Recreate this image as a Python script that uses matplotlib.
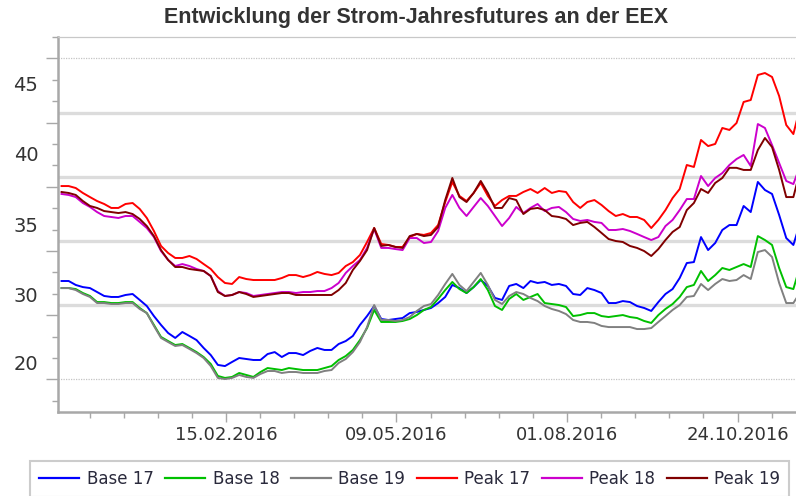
import matplotlib
matplotlib.use("Agg")
import matplotlib.pyplot as plt
import matplotlib.dates as mdates
from matplotlib.ticker import FixedLocator, NullFormatter
from matplotlib.lines import Line2D
import pandas as pd

# ---------------- data ----------------
dates = pd.date_range("2015-11-26", periods=105, freq="84h")

base17 = [31.13, 31.13, 30.85, 30.70, 30.63, 30.35, 30.07, 30.00, 30.00, 30.14,
          30.21, 29.79, 29.36, 28.65, 28.02, 27.45, 27.10, 27.52, 27.24, 26.95,
          26.39, 25.89, 25.19, 25.11, 25.40, 25.68, 25.61, 25.54, 25.54, 25.96,
          26.10, 25.75, 26.03, 26.03, 25.89, 26.18, 26.39, 26.25, 26.25, 26.67,
          26.88, 27.24, 28.02, 28.65, 29.36, 28.44, 28.37, 28.44, 28.51, 28.86,
          28.94, 29.08, 29.22, 29.57, 30.00, 30.85, 30.63, 30.28, 30.70, 31.20,
          30.78, 29.93, 29.79, 30.78, 30.92, 30.63, 31.13, 30.99, 31.06, 30.85,
          30.92, 30.78, 30.21, 30.14, 30.63, 30.49, 30.28, 29.57, 29.57, 29.71,
          29.64, 29.36, 29.22, 29.01, 29.64, 30.21, 30.56, 31.34, 32.40, 32.47,
          34.24, 33.32, 33.82, 34.74, 35.09, 35.09, 36.44, 36.01, 38.14, 37.57,
          37.29, 35.80, 34.17, 33.68, 35.31]
base18 = [30.63, 30.63, 30.56, 30.28, 30.07, 29.64, 29.64, 29.57, 29.57, 29.64,
          29.64, 29.22, 28.86, 28.02, 27.17, 26.88, 26.60, 26.67, 26.39, 26.10,
          25.75, 25.26, 24.41, 24.27, 24.34, 24.62, 24.48, 24.34, 24.69, 24.97,
          24.90, 24.83, 24.97, 24.90, 24.83, 24.83, 24.83, 24.97, 25.11, 25.54,
          25.82, 26.25, 26.95, 27.80, 29.08, 28.23, 28.23, 28.23, 28.30, 28.44,
          28.72, 29.08, 29.29, 29.86, 30.49, 31.06, 30.56, 30.28, 30.70, 31.27,
          30.49, 29.36, 29.08, 29.86, 30.21, 29.79, 30.00, 30.21, 29.57, 29.50,
          29.43, 29.29, 28.65, 28.72, 28.86, 28.86, 28.65, 28.58, 28.65, 28.72,
          28.58, 28.51, 28.30, 28.16, 28.72, 29.15, 29.50, 30.00, 30.70, 30.85,
          31.84, 31.13, 31.55, 32.05, 31.91, 32.12, 32.33, 32.12, 34.31, 34.03,
          33.68, 32.05, 30.70, 30.56, 32.26]
base19 = [30.63, 30.63, 30.49, 30.21, 30.00, 29.57, 29.57, 29.50, 29.50, 29.57,
          29.57, 29.15, 28.86, 27.95, 27.10, 26.81, 26.53, 26.60, 26.32, 26.03,
          25.68, 25.11, 24.27, 24.19, 24.27, 24.48, 24.34, 24.27, 24.55, 24.76,
          24.76, 24.62, 24.69, 24.69, 24.62, 24.62, 24.62, 24.76, 24.83, 25.33,
          25.61, 26.10, 26.81, 27.87, 29.43, 28.37, 28.37, 28.30, 28.37, 28.58,
          29.01, 29.36, 29.50, 30.14, 30.92, 31.63, 30.85, 30.42, 31.06, 31.70,
          30.85, 29.79, 29.50, 30.07, 30.35, 30.21, 29.93, 29.71, 29.36, 29.15,
          29.01, 28.79, 28.37, 28.23, 28.23, 28.16, 27.95, 27.87, 27.87, 27.87,
          27.87, 27.73, 27.73, 27.80, 28.23, 28.65, 29.08, 29.43, 30.00, 30.07,
          30.92, 30.49, 30.92, 31.27, 31.13, 31.20, 31.55, 31.27, 33.18, 33.32,
          32.83, 30.99, 29.57, 29.57, 30.35]
peak17 = [37.85, 37.85, 37.71, 37.36, 37.07, 36.79, 36.58, 36.30, 36.30, 36.58,
          36.65, 36.23, 35.59, 34.67, 33.61, 33.11, 32.76, 32.76, 32.90, 32.69,
          32.33, 31.98, 31.41, 30.99, 30.92, 31.41, 31.27, 31.20, 31.20, 31.20,
          31.20, 31.34, 31.55, 31.55, 31.41, 31.55, 31.77, 31.63, 31.55, 31.70,
          32.19, 32.47, 32.97, 33.89, 34.88, 33.75, 33.68, 33.54, 33.54, 34.24,
          34.46, 34.39, 34.53, 35.09, 36.72, 38.14, 37.15, 36.79, 37.36, 38.07,
          37.15, 36.44, 36.86, 37.15, 37.15, 37.43, 37.64, 37.36, 37.71, 37.36,
          37.50, 37.43, 36.72, 36.30, 36.72, 36.86, 36.51, 36.08, 35.73, 35.87,
          35.66, 35.66, 35.45, 34.88, 35.45, 36.15, 37.00, 37.64, 39.34, 39.20,
          41.11, 40.68, 40.83, 41.96, 41.82, 42.31, 43.80, 43.94, 45.71, 45.85,
          45.57, 44.22, 42.17, 41.53, 43.51]
peak18 = [37.29, 37.22, 37.07, 36.65, 36.37, 36.01, 35.73, 35.66, 35.59, 35.73,
          35.73, 35.31, 34.88, 34.24, 33.25, 32.62, 32.19, 32.33, 32.19, 31.98,
          31.84, 31.48, 30.42, 30.07, 30.14, 30.35, 30.28, 30.07, 30.14, 30.21,
          30.28, 30.35, 30.35, 30.28, 30.35, 30.35, 30.42, 30.42, 30.63, 30.99,
          31.70, 32.19, 32.62, 33.47, 34.81, 33.47, 33.47, 33.39, 33.32, 34.17,
          34.17, 33.82, 33.89, 34.67, 36.30, 37.22, 36.30, 35.73, 36.37, 37.00,
          36.44, 35.73, 35.02, 35.59, 36.37, 35.94, 36.30, 36.58, 36.08, 36.30,
          36.37, 36.01, 35.52, 35.38, 35.45, 35.31, 35.24, 34.74, 34.74, 34.81,
          34.67, 34.46, 34.24, 34.03, 34.24, 35.02, 35.45, 36.15, 36.93, 36.93,
          38.56, 37.85, 38.42, 38.77, 39.34, 39.76, 40.05, 39.27, 42.24, 41.96,
          40.75, 39.48, 38.21, 37.99, 39.34]
peak19 = [37.43, 37.36, 37.22, 36.79, 36.44, 36.30, 36.08, 36.01, 35.94, 36.01,
          35.87, 35.52, 35.02, 34.31, 33.32, 32.62, 32.12, 32.12, 31.98, 31.91,
          31.84, 31.48, 30.35, 30.07, 30.14, 30.35, 30.21, 30.00, 30.07, 30.14,
          30.21, 30.28, 30.28, 30.14, 30.14, 30.14, 30.14, 30.14, 30.14, 30.49,
          30.99, 31.91, 32.55, 33.32, 34.88, 33.61, 33.68, 33.54, 33.47, 34.31,
          34.46, 34.31, 34.39, 34.95, 36.86, 38.42, 37.07, 36.72, 37.36, 38.21,
          37.36, 36.30, 36.30, 37.00, 36.86, 35.87, 36.23, 36.30, 36.15, 35.73,
          35.66, 35.52, 35.09, 35.24, 35.31, 34.95, 34.53, 34.10, 33.96, 33.89,
          33.61, 33.47, 33.25, 32.90, 33.39, 34.03, 34.60, 34.95, 36.15, 36.65,
          37.64, 37.36, 38.07, 38.42, 39.14, 39.14, 38.99, 38.99, 40.40, 41.25,
          40.61, 38.99, 37.07, 37.07, 38.99]

series_names = ["Base 17", "Base 18", "Base 19", "Peak 17", "Peak 18", "Peak 19"]
series_values = [base17, base18, base19, peak17, peak18, peak19]
series_colors = ["#0000ff", "#00c000", "#808080", "#ff0000", "#cc00cc", "#800000"]

xtick_dates = ["2016-02-15", "2016-05-09", "2016-08-01", "2016-10-24"]
xtick_labels = ["15.02.2016", "09.05.2016", "01.08.2016", "24.10.2016"]
ytick_values = [45, 40, 35, 30, 25.2]
ytick_labels = ["45", "40", "35", "30", "20"]
title = "Entwicklung der Strom-Jahresfutures an der EEX"

# ---------------- figure ----------------
W, H = 796, 496
fig = plt.figure(figsize=(W / 100, H / 100), dpi=100)
ax_l, ax_r, ax_t, ax_b = 58.3, 796, 36.7, 411.7
ax = fig.add_axes([ax_l / W, 1 - ax_b / H, (ax_r - ax_l) / W, (ax_b - ax_t) / H])

ref = mdates.date2num(pd.Timestamp("2016-02-15"))
ax.set_xlim(ref - 82.6, ref + 280.8)
ax.set_ylim(21.88, 48.42)

# grid lines
for g in [29.43, 33.96, 38.51, 43.04]:
    ax.axhline(g, color="#dcdcdc", lw=2.4, zorder=0)
for g in [24.17, 46.89]:
    ax.axhline(g, color="#c4c4c4", lw=0.9, ls=(0, (1, 1)), zorder=0)

for name, vals, col in zip(series_names, series_values, series_colors):
    ax.plot(dates, vals, color=col, lw=1.4, label=name, zorder=3)

# spines
for s in ["left", "bottom"]:
    ax.spines[s].set_color("#a8a8a8")
    ax.spines[s].set_linewidth(1.8)
ax.spines["right"].set_visible(False)
ax.spines["top"].set_color("#c8c8c8")
ax.spines["top"].set_linewidth(0.9)
ax.spines["top"].set_linestyle((0, (1, 1)))

# x ticks
ax.xaxis.set_major_locator(FixedLocator([mdates.date2num(pd.Timestamp(d)) for d in xtick_dates]))
ax.set_xticklabels(xtick_labels)
ax.xaxis.set_minor_locator(FixedLocator([ref + 16.8 * k for k in range(-4, 17) if k % 5 != 0]))
ax.tick_params(axis="x", which="major", length=7.5, width=1, color="#a8a8a8",
               labelsize=13, labelcolor="#333333", pad=3)
ax.tick_params(axis="x", which="minor", length=4, width=1, color="#a8a8a8")

# y ticks (marks only)
step = 1.5145
ymaj = [24.17 + 3 * step * k for k in range(6)]
ymin = [24.17 + step * k for k in range(-1, 17) if k % 3 != 0]
ax.yaxis.set_major_locator(FixedLocator(ymaj))
ax.yaxis.set_minor_locator(FixedLocator(ymin))
ax.yaxis.set_major_formatter(NullFormatter())
ax.tick_params(axis="y", which="major", length=8.5, width=1, color="#a8a8a8")
ax.tick_params(axis="y", which="minor", length=4, width=1, color="#a8a8a8")

# y labels
for v, lab in zip(ytick_values, ytick_labels):
    ax.text(-20 / (ax_r - ax_l), v, lab, transform=ax.get_yaxis_transform(),
            ha="right", va="center", fontsize=14, color="#333333", clip_on=False)

fig.text(416 / W, 1 - 18 / H, title, ha="center", va="center", fontsize=15.5,
         fontweight="bold", family="Liberation Sans", color="#333333")

handles = [Line2D([], [], color=c, lw=1.6) for c in series_colors]
leg = fig.legend(handles, series_names, loc="upper left",
                 bbox_to_anchor=(30 / W, 1 - 461 / H - 0.1, (789.3 - 30) / W, 0.1),
                 mode="expand", ncol=6, borderaxespad=0, fontsize=12,
                 handlelength=2.4, handletextpad=0.45, frameon=True, fancybox=False,
                 borderpad=0.55)
leg.get_frame().set_edgecolor("#c0c0c0")
leg.get_frame().set_linewidth(1.5)
for t in leg.get_texts():
    t.set_color("#2a2a3c")

fig.savefig("out.png", dpi=100)
